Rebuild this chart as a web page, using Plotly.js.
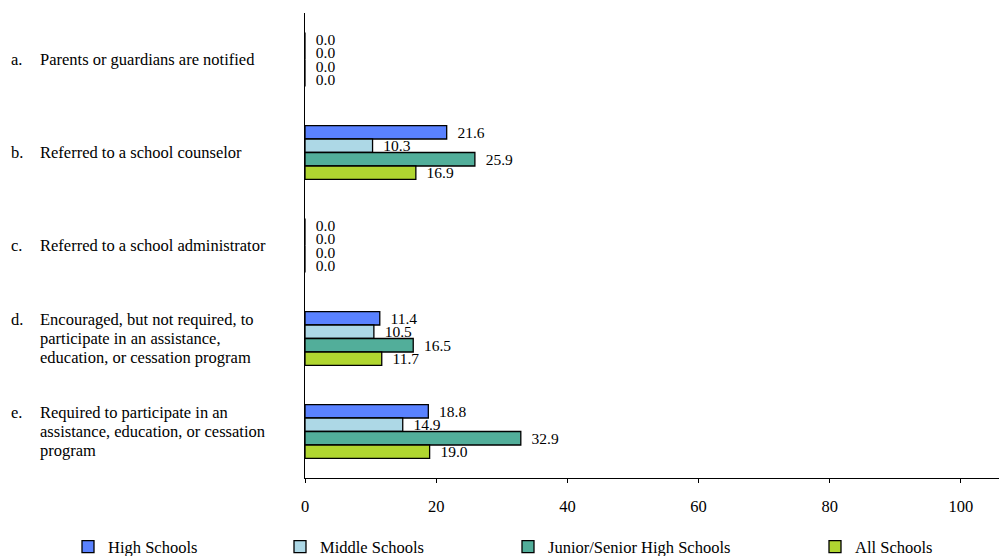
<!DOCTYPE html>
<html>
<head>
<meta charset="utf-8">
<script src="https://cdn.plot.ly/plotly-3.0.1.min.js"></script>
<style>html,body{margin:0;padding:0;background:#fff;}#chart{width:999px;height:556px;}</style>
</head>
<body>
<div id="chart"></div>
<script>
var letters = ["a.", "b.", "c.", "d.", "e."];
var categories = [
  "Parents or guardians are notified",
  "Referred to a school counselor",
  "Referred to a school administrator",
  "Encouraged, but not required, to<br>participate in an assistance,<br>education, or cessation program",
  "Required to participate in an<br>assistance, education, or cessation<br>program"
];
var seriesNames = ["High Schools", "Middle Schools", "Junior/Senior High Schools", "All Schools"];
var highSchools = [0.0, 21.6, 0.0, 11.4, 18.8];
var middleSchools = [0.0, 10.3, 0.0, 10.5, 14.9];
var juniorSenior = [0.0, 25.9, 0.0, 16.5, 32.9];
var allSchools = [0.0, 16.9, 0.0, 11.7, 19.0];
var xTicks = [0, 20, 40, 60, 80, 100];

var colors = ["#5A82FF", "#ADD8E6", "#52AE9A", "#B0D630"];
var values = [highSchools, middleSchools, juniorSenior, allSchools];
var legendIds = ["legend", "legend2", "legend3", "legend4"];
var font = "'Liberation Serif', 'Times New Roman', serif";

var traces = values.map(function (v, i) {
  return {
    type: "bar",
    orientation: "h",
    name: seriesNames[i],
    y: categories,
    x: v,
    legend: legendIds[i],
    marker: {color: colors[i], line: {color: "#000", width: 1.3}},
    text: v.map(function (d) { return d.toFixed(1); }),
    texttemplate: "\u00a0\u00a0%{text}",
    textposition: "outside",
    constraintext: "none",
    cliponaxis: false,
    textfont: {family: font, size: 15.5, color: "#000"},
    hoverinfo: "x+name"
  };
});

var plotLeft = 305, plotW = 694;
function px(p) { return (p - plotLeft) / plotW; }

var labelSize = 16.5, lineStep = 19;
var annotations = [];
categories.forEach(function (c, i) {
  var lines = c.split("<br>");
  var n = lines.length;
  lines.forEach(function (ln, j) {
    var shift = ((n - 1) / 2 - j) * lineStep;
    if (j === 0) {
      annotations.push({
        xref: "paper", yref: "y", x: px(9), y: c, yshift: shift, text: letters[i],
        xanchor: "left", yanchor: "middle", align: "left", showarrow: false,
        font: {family: font, size: labelSize, color: "#000"}
      });
    }
    annotations.push({
      xref: "paper", yref: "y", x: px(38), y: c, yshift: shift, text: ln,
      xanchor: "left", yanchor: "middle", align: "left", showarrow: false,
      font: {family: font, size: labelSize, color: "#000"}
    });
  });
});

var legendX = [68, 280, 508, 815];
var layout = {
  width: 999, height: 556,
  margin: {l: plotLeft, r: 0, t: 13, b: 78, pad: 0, autoexpand: false},
  paper_bgcolor: "#fff", plot_bgcolor: "#fff",
  barmode: "group",
  bargap: 0.42,
  bargroupgap: 0,
  showlegend: true,
  font: {family: font, size: 16, color: "#000"},
  xaxis: {
    range: [0, 105.8],
    automargin: false,
    tickvals: xTicks,
    ticktext: xTicks.map(String),
    ticks: "outside", ticklen: 4, tickcolor: "#000",
    showgrid: false, zeroline: false,
    showline: true, linecolor: "#000", linewidth: 1,
    ticklabelstandoff: 9,
    tickfont: {family: font, size: 16.5, color: "#000"}
  },
  yaxis: {
    autorange: "reversed",
    automargin: false,
    showticklabels: false,
    ticks: "",
    showgrid: false, zeroline: false,
    showline: true, linecolor: "#000", linewidth: 1.5
  },
  annotations: annotations
};
legendIds.forEach(function (id, i) {
  layout[id] = {
    x: legendX[i] / 999, xref: "container",
    y: 1 - 547 / 556, yref: "container",
    xanchor: "left", yanchor: "middle",
    orientation: "h", bgcolor: "rgba(0,0,0,0)", borderwidth: 0,
    font: {family: font, size: 16.5, color: "#000"}
  };
});

Plotly.newPlot("chart", traces, layout, {displayModeBar: false, staticPlot: true});
</script>
</body>
</html>
